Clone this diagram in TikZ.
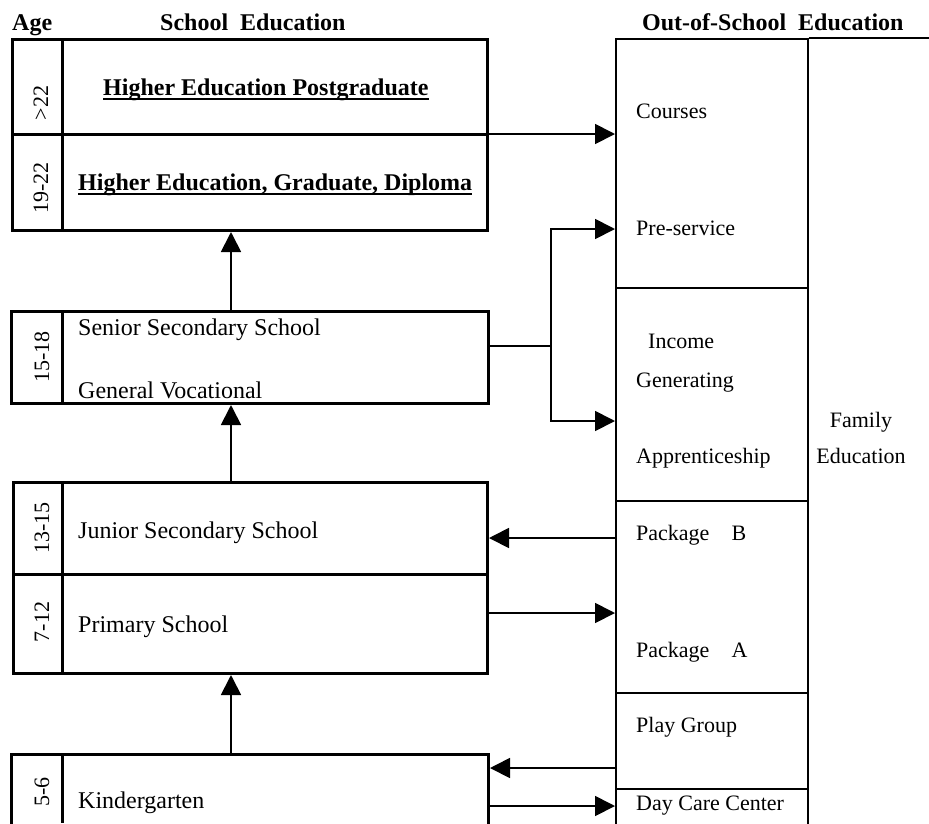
\documentclass[tikz,border=0pt]{standalone}
\usepackage{fontspec}
\setmainfont{Liberation Serif}
\usetikzlibrary{arrows.meta}
\begin{document}
\begin{tikzpicture}[x=1pt,y=-1pt,
  thickbox/.style={draw,line width=3pt,rectangle,inner sep=0pt,anchor=north west},
  thinbox/.style={draw,line width=1.6pt,rectangle,inner sep=0pt,anchor=north west},
  arr/.style={line width=1.8pt,-{Triangle[length=20pt,width=20pt]}},
  ln/.style={line width=1.8pt},
  lt/.style={inner sep=0pt,anchor=base west,font=\fontsize{24}{28}\selectfont},
  rt/.style={inner sep=0pt,anchor=base west,font=\fontsize{22}{26}\selectfont},
  hd/.style={inner sep=0pt,anchor=base west,font=\fontsize{24}{28}\selectfont\bfseries},
  age/.style={inner sep=0pt,anchor=base,rotate=90,font=\fontsize{22}{26}\selectfont},
  ul/.style={line width=2pt}]
\useasboundingbox (0,0) rectangle (929,823);
% headers
\node[hd] (hage) at (12,30) {Age};
\node[hd] (hschool) at (160,30) {School\ \ Education};
\node[hd] (hout) at (642,30) {Out-of-School\ \ Education};
% left boxes
\node[thickbox,minimum width=475pt,minimum height=191pt] (b1) at (11,38) {};
\draw[line width=3pt] (62,38) -- (62,229);
\draw[line width=3pt] (11,134) -- (486,134);
\node[thickbox,minimum width=477pt,minimum height=92pt] (b2) at (10,310) {};
\draw[line width=3pt] (62,310) -- (62,402);
\node[thickbox,minimum width=474pt,minimum height=191pt] (b3) at (12,481) {};
\draw[line width=3pt] (62,481) -- (62,672);
\draw[line width=3pt] (12,574) -- (486,574);
\node[thickbox,minimum width=477pt,minimum height=90pt] (b4) at (10,753) {};
\draw[line width=3pt] (62,753) -- (62,823);
% age labels
\node[age] (a1) at (48,103) {>22};
\node[age] (a2) at (48,188) {19-22};
\node[age] (a3) at (49,357) {15-18};
\node[age] (a4) at (49,528) {13-15};
\node[age] (a5) at (49,622) {7-12};
\node[age] (a6) at (49,792) {5-6};
% left texts
\node[hd] (t1) at (103,95) {Higher Education Postgraduate};
\draw[ul] ([yshift=-4pt]t1.base west) -- ([yshift=-4pt]t1.base east);
\node[hd] (t2) at (78,190) {Higher Education, Graduate, Diploma};
\draw[ul] ([yshift=-4pt]t2.base west) -- ([yshift=-4pt]t2.base east);
\node[lt] (t3) at (78,335) {Senior Secondary School};
\node[lt] (t4) at (78,398) {General Vocational};
\node[lt] (t5) at (78,538) {Junior Secondary School};
\node[lt] (t6) at (78,632) {Primary School};
\node[lt] (t7) at (78,808) {Kindergarten};
% right column
\node[thinbox,minimum width=192pt,minimum height=249pt] (r1) at (615,38) {};
\node[thinbox,minimum width=192pt,minimum height=213pt] (r2) at (615,287) {};
\node[thinbox,minimum width=192pt,minimum height=192pt] (r3) at (615,500) {};
\node[thinbox,minimum width=192pt,minimum height=96pt] (r4) at (615,692) {};
\node[thinbox,minimum width=192pt,minimum height=50pt] (r5) at (615,788) {};
\draw[line width=1.6pt] (r1.north east) -- (929,38);
% right texts
\node[rt] (s1) at (636,118) {Courses};
\node[rt] (s2) at (636,235) {Pre-service};
\node[rt] (s3) at (648,348) {Income};
\node[rt] (s4) at (636,387) {Generating};
\node[rt] (s5) at (636,463) {Apprenticeship};
\node[rt] (s6) at (636,540) {Package\ \ \ \ B};
\node[rt] (s7) at (636,657) {Package\ \ \ \ A};
\node[rt] (s8) at (636,732) {Play Group};
\node[rt] (s9) at (636,810) {Day Care Center};
\node[inner sep=0pt,anchor=base,align=center,font=\fontsize{22}{36}\selectfont] (fam) at (861,463) {Family\\Education};
% vertical arrows
\coordinate (ax) at (231,0);
\draw[arr] (b2.north -| ax) -- (b1.south -| ax);
\draw[arr] (b3.north -| ax) -- (b2.south -| ax);
\draw[arr] (b4.north -| ax) -- (b3.south -| ax);
% horizontal arrows
\coordinate (yc) at (0,134);
\coordinate (yp) at (0,229);
\coordinate (ys) at (0,346);
\coordinate (ya) at (0,421);
\coordinate (yb) at (0,538);
\coordinate (yq) at (0,613);
\coordinate (yg) at (0,768);
\coordinate (yd) at (0,806);
\coordinate (jx) at (551,0);
\draw[arr] (b1.east |- yc) -- (r1.west |- yc);
\draw[ln] (b2.east |- ys) -- (jx |- ys);
\draw[arr] (jx |- ys) -- (jx |- yp) -- (r1.west |- yp);
\draw[arr] (jx |- ys) -- (jx |- ya) -- (r2.west |- ya);
\draw[arr] (r3.west |- yb) -- (b3.east |- yb);
\draw[arr] (b3.east |- yq) -- (r3.west |- yq);
\draw[arr] (r4.west |- yg) -- (b4.east |- yg);
\draw[arr] (b4.east |- yd) -- (r5.west |- yd);
\end{tikzpicture}
\end{document}
